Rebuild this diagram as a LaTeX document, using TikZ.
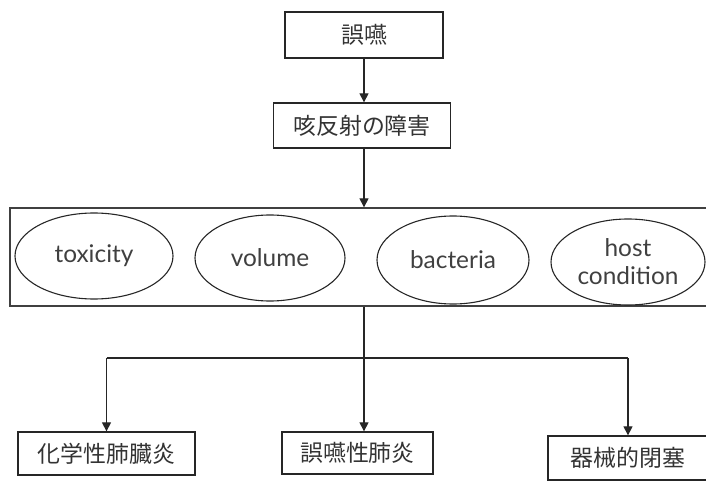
\documentclass[tikz,border=0pt]{standalone}
\usepackage{fontspec}
\setmainfont{Lato}
\newfontfamily\jp{Noto Sans CJK JP}
\usetikzlibrary{shapes.geometric,arrows.meta}
\begin{document}
\begin{tikzpicture}[x=1bp,y=-1bp,
  jbox/.style={draw=black!85,line width=1.3bp,inner sep=0pt,font=\jp\fontsize{23}{26}\selectfont,text=black!80},
  oval/.style={draw=black!85,line width=1.1bp,ellipse,inner sep=0pt,font=\fontsize{24.5}{28}\selectfont,text=black!75,align=center},
  arr/.style={draw=black!85,line width=1.2bp,-{Triangle[length=9bp,width=9bp]}},
  ln/.style={draw=black!85,line width=1.2bp}]
\useasboundingbox (0,0) rectangle (706,482);
\begin{scope}
\clip (0,0) rectangle (706,482);
\node[jbox,minimum width=158bp,minimum height=46bp] (a) at (364,35) {誤嚥};
\node[jbox,minimum width=177bp,minimum height=45bp] (b) at (362,125.5) {咳反射の障害};
\node[draw=black!75,line width=1.3bp,minimum width=702bp,minimum height=98bp,inner sep=0pt] (big) at (361,257) {};
\node[oval,minimum width=158bp,minimum height=86bp] (e1) at (94,256) {toxicity};
\node[oval,minimum width=150bp,minimum height=86bp] (e2) at (270,258) {volume};
\node[oval,minimum width=152bp,minimum height=88bp] (e3) at (453,260) {bacteria};
\node[oval,minimum width=154bp,minimum height=86bp] (e4) at (628,262) {host\\[0bp]condition};
\node[jbox,minimum width=177bp,minimum height=43bp] (c1) at (106.5,453.5) {化学性肺臓炎};
\node[jbox,minimum width=151bp,minimum height=42bp] (c2) at (357.5,453) {誤嚥性肺炎};
\node[jbox,minimum width=160bp,minimum height=44bp] (c3) at (628,458) {器械的閉塞};
\end{scope}
\coordinate (j) at (364,358);
\coordinate (jl) at (c1.north |- j);
\coordinate (jr) at (c3.north |- j);
\draw[arr] (a.south -| 364,0) -- (b.north -| 364,0);
\draw[arr] (b.south -| 364,0) -- (big.north -| 364,0);
\draw[ln] (big.south -| 364,0) -- (j);
\draw[ln] (jl) -- (jr);
\draw[arr] (jl) -- (c1.north);
\draw[arr] (j) -- (c2.north -| j);
\draw[arr] (jr) -- (c3.north);
\end{tikzpicture}
\end{document}
